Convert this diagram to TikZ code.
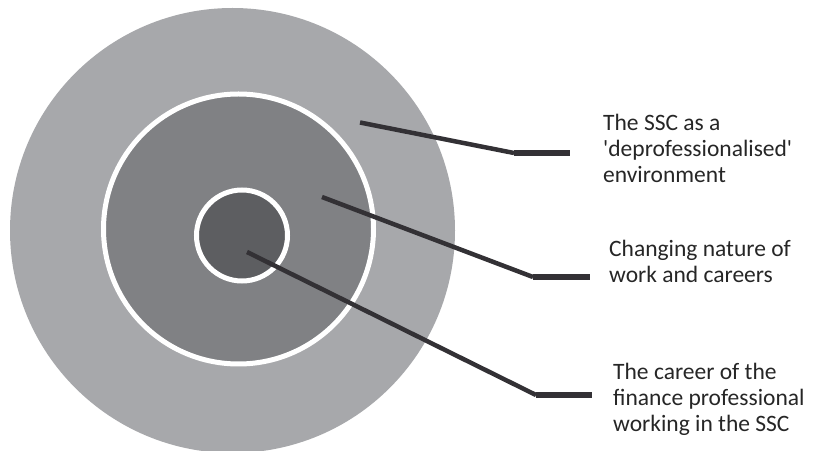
\documentclass[tikz,border=0pt]{standalone}
\usepackage{fontspec}
\setmainfont{Carlito}
\definecolor{ringouter}{HTML}{A7A8AB}
\definecolor{ringmid}{HTML}{808184}
\definecolor{ringinner}{HTML}{5D5E61}
\definecolor{leader}{HTML}{333135}
\definecolor{labeltext}{HTML}{262626}
\begin{document}
\begin{tikzpicture}[x=1pt,y=1pt,
  ring/.style={draw=white,line width=5pt},
  slant/.style={draw=leader,line width=4.5pt},
  shelf/.style={draw=leader,line width=6pt},
  caption/.style={anchor=base west,align=left,inner sep=0pt,text=labeltext,
    font=\fontsize{23.5}{26}\selectfont}]
\useasboundingbox (0,0) rectangle (814,450);
% concentric discs
\fill[ringouter] (232.5,219.5) circle (222.5);
\filldraw[ring,fill=ringmid] (238.5,221) circle (135);
\filldraw[ring,fill=ringinner] (242,214.5) circle (45.5);
% labels (base anchor sits on the last line)
\node[caption] (lab1) at (603,267) {The SSC as a\\\textquotesingle deprofessionalised\textquotesingle\\environment};
\node[caption] (lab2) at (609,167) {Changing nature of\\work and careers};
\node[caption] (lab3) at (613,18.5) {The career of the\\finance professional\\working in the SSC};
% leader points
\coordinate (s1) at (360,327.5);
\coordinate (k1) at (514,297);
\coordinate (e1) at (570,297);
\coordinate (s2) at (322,253);
\coordinate (k2) at (533,173);
\coordinate (e2) at (590,173);
\coordinate (s3) at (247,198);
\coordinate (k3) at (536,55);
\coordinate (e3) at (592,55);
% leaders
\draw[slant] (s1) -- (k1);
\draw[shelf] (k1) -- (e1);
\draw[slant] (s2) -- (k2);
\draw[shelf] (k2) -- (e2);
\draw[slant] (s3) -- (k3);
\draw[shelf] (k3) -- (e3);
\end{tikzpicture}
\end{document}
